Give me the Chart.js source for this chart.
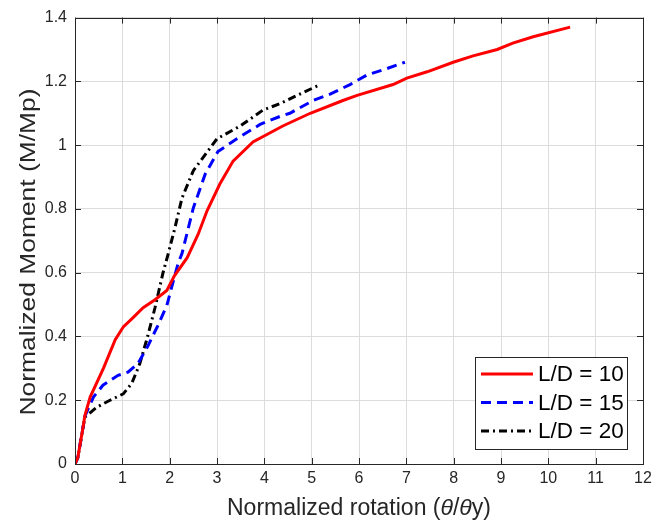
<!DOCTYPE html>
<html>
<head>
<meta charset="utf-8">
<script src="https://cdn.jsdelivr.net/npm/chart.js@4"></script>
<style>
  html, body { margin: 0; padding: 0; background: #fff; }
</style>
</head>
<body>
<canvas id="momentChart" width="665" height="524"></canvas>
<script>
// tick labels
const xTicks = [0, 1, 2, 3, 4, 5, 6, 7, 8, 9, 10, 11, 12];
const yTicks = [0, 0.2, 0.4, 0.6, 0.8, 1.0, 1.2, 1.4];

// series
const seriesNames = ['L/D = 10', 'L/D = 15', 'L/D = 20'];

const ld10X = [0, 0.06, 0.17, 0.21, 0.32, 0.6, 0.85, 1.02, 1.2, 1.44, 1.69, 1.94, 2.1, 2.37, 2.6, 2.79, 3.06, 3.34, 3.76, 4.39, 4.97, 5.66, 5.96, 6.72, 7.01, 7.44, 7.99, 8.41, 8.92, 9.25, 9.68, 10.46];
const ld10Y = [0, 0.02, 0.115, 0.153, 0.21, 0.30, 0.39, 0.43, 0.455, 0.49, 0.515, 0.544, 0.59, 0.647, 0.72, 0.794, 0.878, 0.95, 1.01, 1.06, 1.10, 1.14, 1.156, 1.19, 1.21, 1.23, 1.26, 1.28, 1.30, 1.32, 1.34, 1.37];

const ld15X = [0, 0.06, 0.17, 0.21, 0.39, 0.59, 0.91, 1.12, 1.33, 1.54, 1.75, 1.94, 2.07, 2.18, 2.26, 2.5, 2.75, 3.02, 3.42, 3.91, 4.33, 4.54, 5.03, 5.39, 5.81, 6.17, 6.59, 6.97];
const ld15Y = [0, 0.02, 0.115, 0.15, 0.21, 0.247, 0.278, 0.288, 0.315, 0.37, 0.434, 0.497, 0.57, 0.63, 0.66, 0.803, 0.909, 0.98, 1.02, 1.065, 1.09, 1.10, 1.14, 1.16, 1.19, 1.22, 1.24, 1.26];

const ld20X = [0, 0.06, 0.17, 0.21, 0.46, 0.74, 1.02, 1.2, 1.37, 1.54, 1.69, 1.86, 1.97, 2.11, 2.26, 2.5, 3.0, 3.49, 3.97, 4.33, 4.75, 5.18];
const ld20Y = [0, 0.02, 0.115, 0.147, 0.178, 0.2, 0.22, 0.253, 0.315, 0.403, 0.49, 0.6, 0.66, 0.74, 0.834, 0.92, 1.02, 1.06, 1.11, 1.13, 1.16, 1.19];

const axisColor = '#262626';
const FONT = '"Liberation Sans", Arial, Helvetica, sans-serif';

function toPoints(xs, ys) {
  return xs.map((x, i) => ({ x: x, y: ys[i] }));
}

// box, inward ticks, legend and axis titles (MATLAB look)
const matlabAxes = {
  id: 'matlabAxes',
  afterDatasetsDraw(chart) {
    const ctx = chart.ctx;
    const ca = chart.chartArea;
    const xs = chart.scales.x, ys = chart.scales.y;
    ctx.save();
    ctx.strokeStyle = axisColor;
    ctx.lineWidth = 1;
    ctx.setLineDash([]);
    ctx.strokeRect(Math.round(ca.left) + 0.5, Math.round(ca.top) + 0.5,
      Math.round(ca.right - ca.left), Math.round(ca.bottom - ca.top));
    const tl = 6;
    ctx.beginPath();
    xTicks.forEach(v => {
      const px = Math.round(xs.getPixelForValue(v)) + 0.5;
      ctx.moveTo(px, ca.bottom); ctx.lineTo(px, ca.bottom - tl);
      ctx.moveTo(px, ca.top); ctx.lineTo(px, ca.top + tl);
    });
    yTicks.forEach(v => {
      const py = Math.round(ys.getPixelForValue(v)) + 0.5;
      ctx.moveTo(ca.left, py); ctx.lineTo(ca.left + tl, py);
      ctx.moveTo(ca.right, py); ctx.lineTo(ca.right - tl, py);
    });
    ctx.stroke();

    // legend box
    const bx = ca.right - 168, by = ca.bottom - 107, bw = 152, bh = 92;
    ctx.fillStyle = '#fff';
    ctx.fillRect(bx, by, bw, bh);
    ctx.strokeStyle = axisColor;
    ctx.strokeRect(bx + 0.5, by + 0.5, bw, bh);
    ctx.font = '22.5px ' + FONT;
    ctx.textBaseline = 'middle';
    ctx.textAlign = 'left';
    chart.data.datasets.forEach((ds, i) => {
      const cy = by + 17 + i * 28.5;
      ctx.beginPath();
      ctx.strokeStyle = ds.borderColor;
      ctx.lineWidth = ds.borderWidth;
      ctx.setLineDash(ds.borderDash || []);
      ctx.moveTo(bx + 6, cy);
      ctx.lineTo(bx + 58, cy);
      ctx.stroke();
      ctx.setLineDash([]);
      ctx.fillStyle = '#000';
      ctx.fillText(ds.label, bx + 63, cy + 1);
    });
    ctx.restore();
  },
  afterDraw(chart) {
    const ctx = chart.ctx;
    const ca = chart.chartArea;
    ctx.save();
    ctx.fillStyle = axisColor;
    ctx.textBaseline = 'alphabetic';
    // x title with italic theta
    const f = '23px ' + FONT, fi = 'italic 23px ' + FONT;
    const parts = [
      ['Normalized rotation (', f],
      ['\u03b8', fi],
      ['/', f],
      ['\u03b8', fi],
      ['y)', f]
    ];
    let total = 0;
    parts.forEach(p => { ctx.font = p[1]; total += ctx.measureText(p[0]).width; });
    let x = (ca.left + ca.right) / 2 - total / 2;
    parts.forEach(p => {
      ctx.font = p[1];
      ctx.textAlign = 'left';
      ctx.fillText(p[0], x, 515);
      x += ctx.measureText(p[0]).width;
    });
    // y title, stretched along the axis like the original
    const yt = 'Normalized Moment (M/Mp)';
    ctx.translate(35, 252);
    ctx.rotate(-Math.PI / 2);
    ctx.font = '22px ' + FONT;
    const w = ctx.measureText(yt).width;
    ctx.scale(327 / w, 1);
    ctx.textAlign = 'center';
    ctx.fillText(yt, 0, 0);
    ctx.restore();
  }
};

const ctx = document.getElementById('momentChart');

new Chart(ctx, {
  type: 'scatter',
  data: {
    datasets: [
      {
        label: seriesNames[0],
        data: toPoints(ld10X, ld10Y),
        borderColor: '#ff0000',
        borderWidth: 3,
        showLine: true,
        pointRadius: 0,
        tension: 0
      },
      {
        label: seriesNames[1],
        data: toPoints(ld15X, ld15Y),
        borderColor: '#0000ff',
        borderWidth: 3,
        borderDash: [10, 6],
        showLine: true,
        pointRadius: 0,
        tension: 0
      },
      {
        label: seriesNames[2],
        data: toPoints(ld20X, ld20Y),
        borderColor: '#000000',
        borderWidth: 3,
        borderDash: [8, 4, 2, 4],
        showLine: true,
        pointRadius: 0,
        tension: 0
      }
    ]
  },
  options: {
    responsive: false,
    animation: false,
    layout: { padding: { top: 16, right: 22, left: 0, bottom: 0 } },
    plugins: {
      legend: { display: false },
      tooltip: { enabled: false }
    },
    scales: {
      x: {
        type: 'linear',
        min: 0,
        max: 12,
        afterBuildTicks: s => { s.ticks = xTicks.map(v => ({ value: v })); },
        afterFit: s => { s.height = 60; },
        ticks: {
          color: axisColor,
          font: { family: FONT, size: 16 },
          padding: 5,
          maxRotation: 0,
          callback: v => String(v)
        },
        grid: { color: '#dcdcdc', drawTicks: false },
        border: { display: false }
      },
      y: {
        min: 0,
        max: 1.4,
        afterBuildTicks: s => { s.ticks = yTicks.map(v => ({ value: v })); },
        afterFit: s => { s.width = 75; },
        ticks: {
          color: axisColor,
          font: { family: FONT, size: 16 },
          padding: 8,
          callback: v => String(+v.toFixed(1))
        },
        grid: { color: '#dcdcdc', drawTicks: false },
        border: { display: false }
      }
    }
  },
  plugins: [matlabAxes]
});
</script>
</body>
</html>
